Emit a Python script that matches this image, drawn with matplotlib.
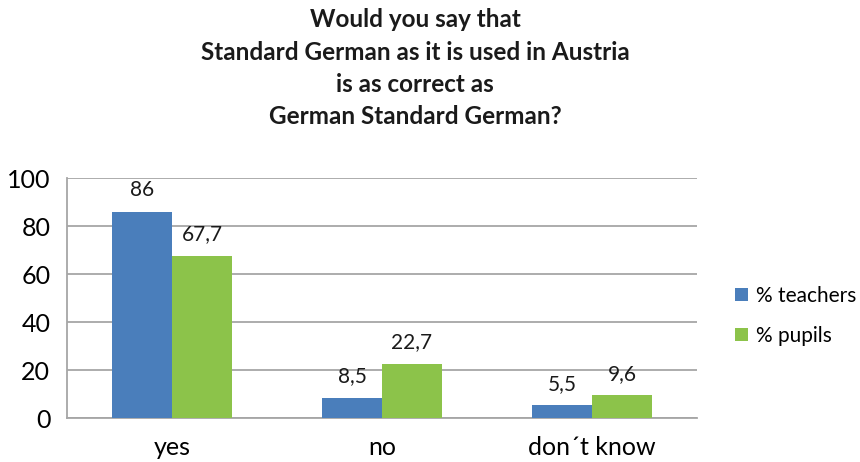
import matplotlib
matplotlib.use("Agg")
import matplotlib.pyplot as plt
import numpy as np

categories = ["yes", "no", "don\u00b4t know"]
teachers = [86, 8.5, 5.5]
pupils = [67.7, 22.7, 9.6]
teacher_labels = ["86", "8,5", "5,5"]
pupil_labels = ["67,7", "22,7", "9,6"]
series_names = ["% teachers", "% pupils"]
title = ("Would you say that\nStandard German as it is used in Austria\n"
         "is as correct as\nGerman Standard German?")

plt.rcParams["font.family"] = ["Lato", "DejaVu Sans"]

fig = plt.figure(figsize=(8.6, 4.62), dpi=100)
ax = fig.add_axes([67 / 860, 1 - 418 / 462, 630 / 860, 240 / 462])

blue = "#4A7EBB"
green = "#8CC34A"
grid_c = "#A6A6A6"

x = np.arange(len(categories))
w = 60 / 210
b1 = ax.bar(x - w / 2, teachers, w, color=blue, label=series_names[0], zorder=3)
b2 = ax.bar(x + w / 2, pupils, w, color=green, label=series_names[1], zorder=3)

for bars, labels in ((b1, teacher_labels), (b2, pupil_labels)):
    for bar, lab in zip(bars, labels):
        ax.annotate(lab, (bar.get_x() + bar.get_width() / 2, bar.get_height()),
                    xytext=(0, 8), textcoords="offset points",
                    ha="center", va="bottom", fontsize=15, color="#1a1a1a")

ax.set_xlim(-0.5, 2.5)
ax.set_ylim(0, 100)
ax.set_yticks(range(0, 101, 20))
ax.set_xticks(x)
ax.set_xticklabels(categories, fontsize=18)
ax.tick_params(axis="y", labelsize=18, length=0, pad=12)
ax.tick_params(axis="x", length=0, pad=13)
ax.yaxis.grid(True, color=grid_c, linewidth=1.3, zorder=0)
for s in ("top", "right"):
    ax.spines[s].set_visible(False)
for s in ("left", "bottom"):
    ax.spines[s].set_color(grid_c)
    ax.spines[s].set_linewidth(1.3)

fig.text(415 / 860, 1 - 8 / 462, title, ha="center", va="top",
         fontsize=17.5, fontweight="bold", linespacing=1.5, color="#1a1a1a")

handles, labels = ax.get_legend_handles_labels()
fig.legend(handles, labels, loc="center left", bbox_to_anchor=(735 / 860, 1 - 316 / 462),
           frameon=False, fontsize=15, handlelength=0.6, handleheight=0.6,
           handletextpad=0.4, labelspacing=0.95, borderpad=0, borderaxespad=0)

fig.savefig("out.png", dpi=100)
